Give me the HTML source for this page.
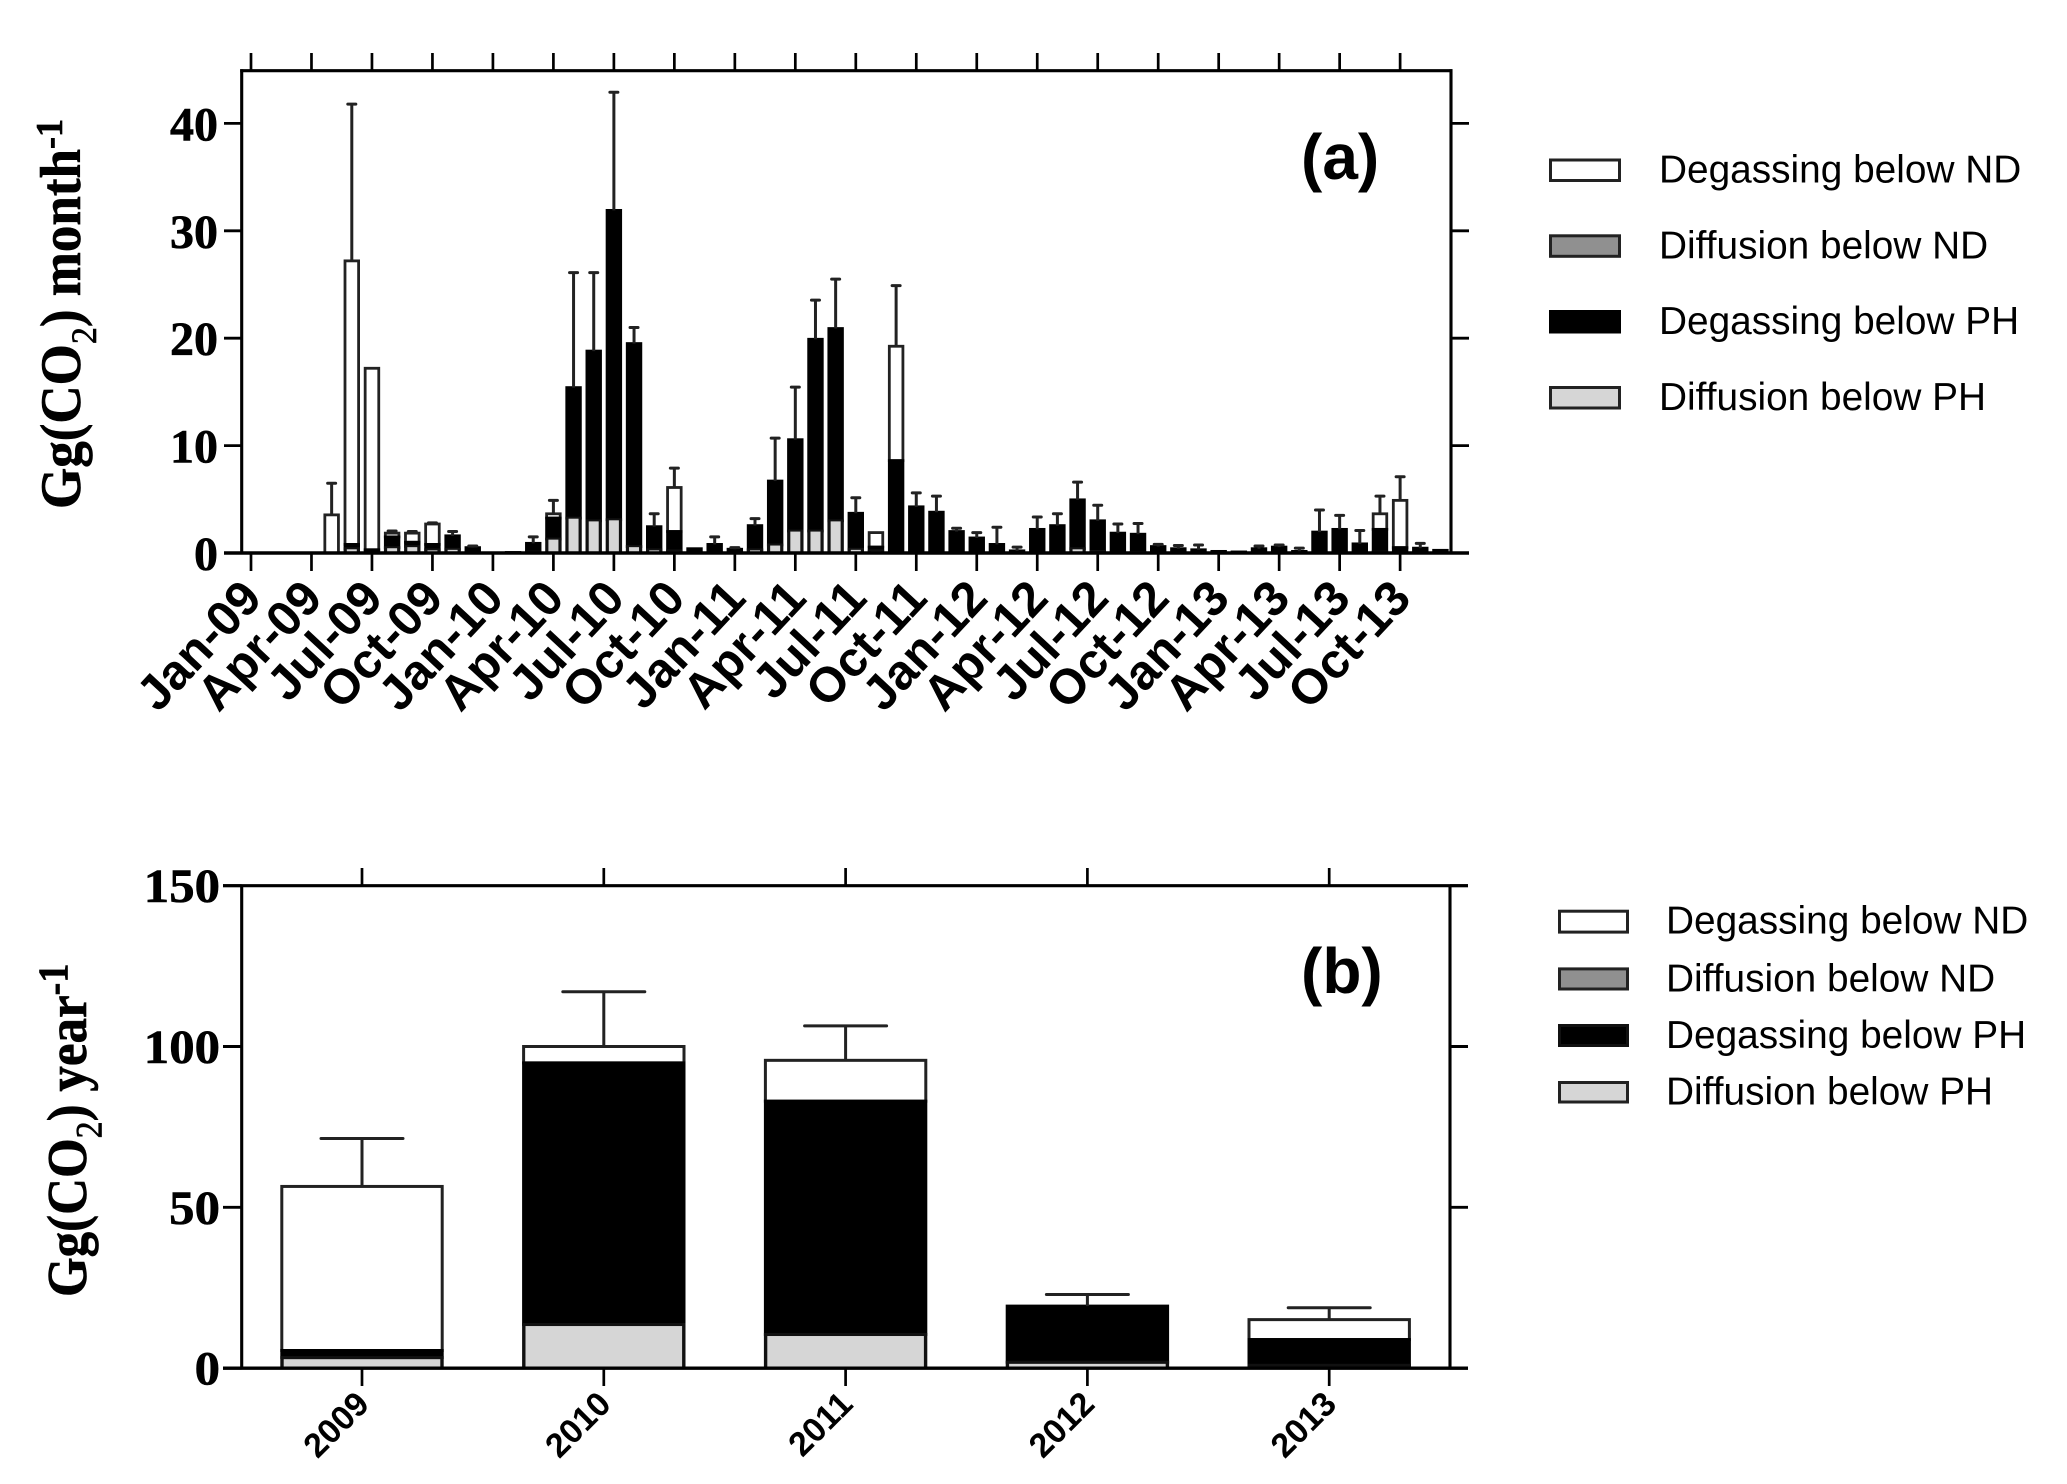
<!DOCTYPE html>
<html>
<head>
<meta charset="utf-8">
<title>CO2 emissions below ND and PH</title>
<style>
html,body{margin:0;padding:0;background:#fff;}
svg{display:block;}
.serif{font-family:"Liberation Serif",serif;font-weight:bold;stroke:#000;stroke-width:0.6px;}
.leg{font-family:"Liberation Sans",sans-serif;font-size:38.8px;fill:#000;}
.panel{font-family:"Liberation Sans",sans-serif;font-weight:bold;font-size:64px;fill:#000;}
</style>
</head>
<body>
<svg id="chart" xmlns="http://www.w3.org/2000/svg" width="2067" height="1484" viewBox="0 0 2067 1484">
  <rect x="0" y="0" width="2067" height="1484" fill="#fff"/>
  <g id="panelA"></g>
  <g id="panelB"></g>

  <text class="panel" x="1301" y="179">(a)</text>
  <text class="panel" x="1301" y="993">(b)</text>

  <text class="serif" transform="translate(80,509) rotate(-90) scale(1,1.07)" font-size="53" fill="#000">Gg(CO<tspan font-size="34" font-weight="normal" dy="15">2</tspan><tspan dy="-15">) month</tspan><tspan font-size="36" dy="-17">-1</tspan></text>
  <text class="serif" transform="translate(86,1297) rotate(-90) scale(1,1.1)" font-size="51" fill="#000">Gg(CO<tspan font-size="34" font-weight="normal" dy="14">2</tspan><tspan dy="-14">) year</tspan><tspan font-size="38" dy="-17">-1</tspan></text>

  <g stroke="#222" stroke-width="3">
    <rect x="1550.5" y="160" width="69" height="20.5" fill="#fff"/>
    <rect x="1550.5" y="235.8" width="69" height="20.5" fill="#909090"/>
    <rect x="1550.5" y="311.5" width="69" height="20.5" fill="#000" stroke="#000"/>
    <rect x="1550.5" y="387.5" width="69" height="20.5" fill="#d6d6d6"/>
    <g stroke="none">
      <text class="leg" x="1659" y="182.7">Degassing below ND</text>
      <text class="leg" x="1659" y="258.7">Diffusion below ND</text>
      <text class="leg" x="1659" y="334">Degassing below PH</text>
      <text class="leg" x="1659" y="410">Diffusion below PH</text>
    </g>
  </g>
  <g stroke="#222" stroke-width="3">
    <rect x="1559.5" y="911.2" width="68" height="20.9" fill="#fff"/>
    <rect x="1559.5" y="968.9" width="68" height="20.1" fill="#909090"/>
    <rect x="1559.5" y="1025.5" width="68" height="20" fill="#000" stroke="#111"/>
    <rect x="1559.5" y="1082.5" width="68" height="19.5" fill="#d6d6d6"/>
    <g stroke="none">
      <text class="leg" x="1666" y="933.6">Degassing below ND</text>
      <text class="leg" x="1666" y="991.3">Diffusion below ND</text>
      <text class="leg" x="1666" y="1047.8">Degassing below PH</text>
      <text class="leg" x="1666" y="1104.7">Diffusion below PH</text>
    </g>
  </g>
</svg>
<script>
// Monthly panel data: Jan-09 to Dec-13, stacked segment sizes in Gg(CO2) per month
const monthTickLabels = ["Jan-09","Apr-09","Jul-09","Oct-09","Jan-10","Apr-10","Jul-10","Oct-10","Jan-11","Apr-11","Jul-11","Oct-11","Jan-12","Apr-12","Jul-12","Oct-12","Jan-13","Apr-13","Jul-13","Oct-13"];
const monthlyDiffusionPH = [0,0,0,0,0,0.4,0,0.5,0.6,0.3,0.35,0,0,0,0.1,1.3,3.25,3,3.1,0.6,0.3,0.2,0,0,0,0.3,0.75,2.05,2.05,3,0.35,0.2,0,0,0,0,0,0,0,0,0,0.4,0.15,0,0.05,0,0,0,0,0,0,0,0,0,0,0,0.1,0,0,0];
const monthlyDegassingPH = [0,0,0,0,0,0.4,0.3,1,0.4,0.5,1.25,0.5,0,0.05,0.8,1.95,12.15,15.8,28.8,18.9,2.15,1.8,0.4,0.8,0.35,2.25,5.95,8.5,17.85,17.9,3.35,0.35,8.6,4.3,3.8,2,1.4,0.8,0.2,2.2,2.55,4.55,2.85,1.85,1.7,0.6,0.4,0.3,0.15,0.1,0.4,0.55,0.15,1.95,2.2,0.85,2.1,0.5,0.45,0.25];
const monthlyDiffusionND = [0,0,0,0,0,0,0,0,0,0,0,0,0,0,0,0,0,0,0,0,0,0,0,0,0,0,0,0,0,0,0,0,0,0,0,0,0,0,0,0,0,0,0,0,0,0,0,0,0,0,0,0,0,0,0,0,0,0,0,0];
const monthlyDegassingND = [0,0,0,0,3.55,26.4,16.9,0.35,0.85,1.9,0,0,0,0,0,0.4,0,0,0,0,0,4.1,0,0,0,0,0,0,0,0,0,1.35,10.65,0,0,0,0,0,0,0,0,0,0,0,0,0,0,0,0,0,0,0,0,0,0,0,1.45,4.4,0,0];
const monthlyError = [0,0,0,0,2.95,14.6,0,0.2,0.15,0.1,0.4,0.15,0,0,0.6,1.25,10.7,7.3,11,1.5,1.2,1.8,0,0.7,0.15,0.65,4,4.9,3.65,4.6,1.45,0,5.65,1.3,1.5,0.3,0.5,1.6,0.35,1.15,1.1,1.65,1.45,0.85,1,0.2,0.3,0.45,0,0,0.25,0.2,0.3,2.05,1.3,1.25,1.65,2.2,0.45,0];
const monthYTicks = [0,10,20,30,40];

// Yearly panel data: stacked segment sizes in Gg(CO2) per year
const years = ["2009","2010","2011","2012","2013"];
const yearlyDiffusionPH = [3.3,13.6,10.5,1.85,0.9];
const yearlyDegassingPH = [2.2,81.3,72.5,17.45,8];
const yearlyDiffusionND = [0,0,0,0,0];
const yearlyDegassingND = [51,5.1,12.7,0,6.2];
const yearlyError = [14.9,17,10.7,3.6,3.7];
const yearYTicks = [0,50,100,150];

const SVGNS = "http://www.w3.org/2000/svg";
function mk(parent, tag, attrs, text) {
  const el = document.createElementNS(SVGNS, tag);
  for (const k in attrs) el.setAttribute(k, attrs[k]);
  if (text !== undefined) el.textContent = text;
  parent.appendChild(el);
  return el;
}
function line(parent, x1, y1, x2, y2, w, color) {
  return mk(parent, "line", {x1:x1, y1:y1, x2:x2, y2:y2, stroke:color || "#000", "stroke-width":w});
}

// ---- axis functions ----
const xMonth = i => 251 + 20.16 * i;
const yMonth = v => 553 - 10.74 * v;
const xYear = i => 362 + 241.8 * i;
const yYear = v => 1368.2 - 3.217 * v;

const segColors = {degPH:"#000", diffND:"#909090", degND:"#fff"};

// Draws one stacked bar + its upper error bar.
function drawStack(g, cx, halfW, yFn, vals, err, capHalf, sw, grayInset, errW) {
  const a = vals[0], b = vals[1], c = vals[2], d = vals[3];
  const total = a + b + c + d;
  if (d > 0) {
    const r = mk(g, "rect", {x:cx-halfW, y:yFn(total), width:halfW*2, height:yFn(a+b+c)-yFn(total), fill:segColors.degND, stroke:"#222", "stroke-width":sw});
    
    
  }
  if (c > 0) {
    const r = mk(g, "rect", {x:cx-halfW, y:yFn(a+b+c), width:halfW*2, height:yFn(a+b)-yFn(a+b+c), fill:segColors.diffND, stroke:"#222", "stroke-width":sw});
    
    
  }
  if (b > 0) {
    const r = mk(g, "rect", {x:cx-halfW, y:yFn(a+b), width:halfW*2, height:yFn(a)-yFn(a+b), fill:segColors.degPH, stroke:"#000", "stroke-width":sw});
    
    
  }
  if (a > 0) {
    const frame = mk(g, "rect", {x:cx-halfW-sw/2, y:yFn(a)-sw/2, width:halfW*2+sw, height:yFn(0)-yFn(a)+sw/2, fill:"#111"});
    
    
    const top = yFn(a) + grayInset;
    const inner = mk(g, "rect", {x:cx-halfW+sw/2+0.4, y:top, width:halfW*2-sw-0.8, height:Math.max(0.6, yFn(0)-1-top), fill:"#d6d6d6"});
    
    
  }
  if (err > 0) {
    const yTop = yFn(total + err);
    const stem = line(g, cx, yFn(total), cx, yTop, errW, "#222");
    
    
    const cap = line(g, cx-capHalf, yTop, cx+capHalf, yTop, errW, "#222");
    cap.setAttribute('stroke-linecap', 'round');
    
    
  }
}

// ---- Panel A ----
(function(){
  const g = document.getElementById("panelA");
  monthlyDegassingPH.forEach((_, i) => {
    const vals = [monthlyDiffusionPH[i], monthlyDegassingPH[i], monthlyDiffusionND[i], monthlyDegassingND[i]];
    if (vals[0]+vals[1]+vals[2]+vals[3] <= 0) return;
    const bar = mk(g, "g", {});
    
    
    drawStack(bar, xMonth(i), 6.8, yMonth, vals, monthlyError[i], 4, 2.8, 0.6, 3);
  });
  const L = 241.7, R = 1451, T = 70.7, B = yMonth(0);
  const spineL = line(g, L, T-1.5, L, B, 3.1);
  
  
  const spineR = line(g, R, T-1.5, R, B, 3.1);
  
  
  const spineT = line(g, L-1.5, T, R+1.5, T, 3.1);
  
  
  const spineB = line(g, 224, B, 1469, B, 3.4);
  
  
  monthYTicks.forEach(v => {
    const y = yMonth(v);
    const t1 = line(g, 224, y, L, y, 2.8);
    
    
    const t2 = line(g, R, y, 1469, y, 2.8);
    
    
    const lab = mk(g, "text", {x:218, y:y+17, "text-anchor":"end", "font-size":48, "class":"serif", fill:"#000"}, String(v));
    
    
  });
  monthTickLabels.forEach((s, k) => {
    const x = xMonth(k*3);
    const t1 = line(g, x, B, x, 571, 2.7);
    
    
    const t2 = line(g, x, 53, x, T, 2.7);
    
    
    const ax = x + 13, ay = 600;
    const lab = mk(g, "text", {x:ax, y:ay, "text-anchor":"end", transform:"rotate(-47 "+ax+" "+ay+")", "font-size":49, "font-weight":"bold", "font-family":"'Liberation Sans',sans-serif", fill:"#000"}, s);
    
    
  });
})();

// ---- Panel B ----
(function(){
  const g = document.getElementById("panelB");
  years.forEach((yr, i) => {
    const vals = [yearlyDiffusionPH[i], yearlyDegassingPH[i], yearlyDiffusionND[i], yearlyDegassingND[i]];
    const bar = mk(g, "g", {});
    
    
    drawStack(bar, xYear(i), 80.2, yYear, vals, yearlyError[i], 41, 3, 1.6, 3);
  });
  const L = 241.7, R = 1450, T = yYear(150), B = yYear(0);
  const spineL = line(g, L, T, L, B, 3.1);
  
  
  const spineR = line(g, R, T, R, B, 3.1);
  
  
  const spineT = line(g, 223, T, 1468, T, 3.1);
  
  
  const spineB = line(g, 223, B, 1468, B, 3.4);
  
  
  yearYTicks.forEach(v => {
    const y = yYear(v);
    const t1 = line(g, 223, y, L, y, 2.9);
    
    
    const t2 = line(g, R, y, 1468, y, 2.9);
    
    
    const s = String(v);
    const lab = mk(g, "text", {x:220, y:y+16.5, "text-anchor":"end", "font-size":48, "class":"serif", fill:"#000", textLength:s.length*25.4, lengthAdjust:"spacingAndGlyphs"}, s);
    
    
  });
  years.forEach((yr, i) => {
    const x = xYear(i);
    const t1 = line(g, x, B, x, 1386, 2.7);
    
    
    const t2 = line(g, x, 868, x, T, 2.7);
    
    
    const ax = x + 9, ay = 1406;
    const lab = mk(g, "text", {x:ax, y:ay, "text-anchor":"end", transform:"rotate(-45 "+ax+" "+ay+")", "font-size":34, "font-weight":"bold", "font-family":"'Liberation Sans',sans-serif", fill:"#000"}, yr);
    
    
  });
})();
</script>
</body>
</html>
